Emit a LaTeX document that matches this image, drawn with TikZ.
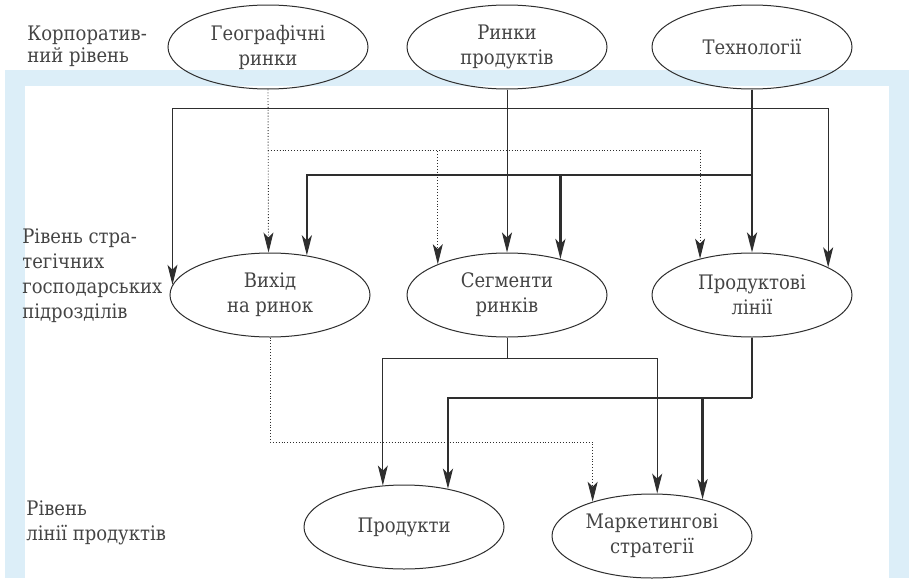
\documentclass[tikz,border=0pt]{standalone}
\usepackage{fontspec}
\setmainfont{DejaVu Serif Condensed}
\newfontfamily\lvlfont{DejaVu Serif Condensed}
\usetikzlibrary{shapes.geometric,arrows.meta}
\definecolor{framebl}{HTML}{DCEEF8}
\definecolor{inkgray}{HTML}{2E2E2E}
\definecolor{textgray}{HTML}{444444}
\tikzset{
  level box/.style={ellipse, draw=inkgray, line width=0.5pt, minimum width=100pt,
    minimum height=42pt, inner sep=0pt, align=center, text=textgray,
    font=\lvlfont\fontsize{10}{12.5}\selectfont},
  level text/.style={anchor=north west, inner sep=0pt, align=left, text=textgray,
    font=\lvlfont\fontsize{10}{12.5}\selectfont},
  thin link/.style={draw=inkgray, line width=0.5pt},
  bold link/.style={draw=inkgray, line width=1.3pt},
  dot link/.style={draw=inkgray, line width=0.45pt, dash pattern=on 0.45pt off 1pt},
  >={Stealth[length=10pt,width=5pt,inset=2.5pt]}
}

\begin{document}
\begin{tikzpicture}[x=0.5pt, y=-0.5pt]
        \useasboundingbox (0,0) rectangle (909,578);
        \fill[framebl] (5,70) rectangle (909,578);
        \fill[white] (25,86) rectangle (889,578);
        %
        \node[level box] (geo) at (268,47) {Географічні\\ринки};
        \node[level box] (rp) at (507,47) {Ринки\\продуктів};
        \node[level box] (tech) at (752,47) {Технології};
        \node[level box] (vyh) at (270,295) {Вихід\\на ринок};
        \node[level box] (seg) at (507,295) {Сегменти\\ринків};
        \node[level box] (prl) at (752,295) {Продуктові\\лінії};
        \node[level box] (prd) at (404,527) {Продукти};
        \node[level box] (mkt) at (652,536) {Маркетингові\\стратегії};
        %
        \node[level text, font=\lvlfont\fontsize{10}{10.75}\selectfont] (corp) at (27,26) {Корпоратив-\\ний рівень};
        \node[level text] (sbu) at (22,228) {Рівень стра-\\тегічних\\господарських\\підрозділів};
        \node[level text] (pline) at (26,500) {Рівень\\лінії продуктів};
        %
        \coordinate (gd) at (geo.south |- 0,150);
        \draw[dot link, ->] (geo.south) -- (vyh.92);
        \draw[dot link, ->] (gd) -| (seg.156);
        \draw[dot link, ->] (gd) -| (prl.145);
        %
        \coordinate (rt) at (rp.south |- 0,108);
        \draw[thin link, ->] (rp.south) -- (seg.north);
        \draw[thin link, ->] (rt) -| (vyh.174);
        \draw[thin link, ->] (rt) -| (prl.20);
        %
        \coordinate (tb) at (tech.south |- 0,175);
        \draw[bold link, ->] (tech.south) -- (prl.north);
        \draw[bold link, ->] (tb) -| (vyh.47);
        \draw[bold link, ->] (tb) -| (seg.34);
        %
        \coordinate (vd) at (vyh.south |- 0,442);
        \draw[dot link, ->] (vyh.south) -- (vd) -| (mkt.150);
        %
        \coordinate (sd) at (seg.south |- 0,358);
        \draw[thin link] (seg.south) -- (sd);
        \draw[thin link, ->] (sd) -| (prd.117);
        \draw[thin link, ->] (sd) -| (mkt.83);
        %
        \coordinate (pd) at (prl.south |- 0,398);
        \draw[bold link] (prl.south) -- (pd);
        \draw[bold link, ->] (pd) -| (prd.41);
        \draw[bold link, ->] (pd) -| (mkt.36);
\end{tikzpicture}
\end{document}
